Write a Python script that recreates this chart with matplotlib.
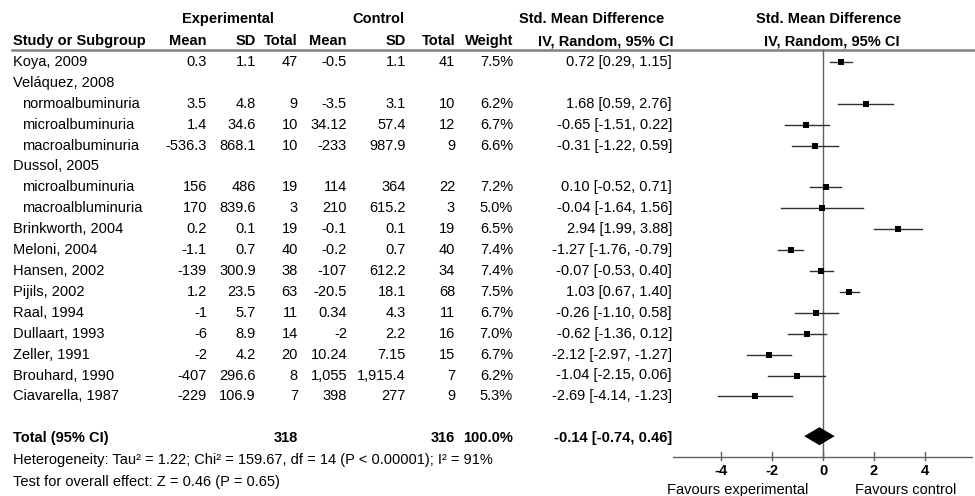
import numpy as np
import matplotlib
matplotlib.use("Agg")
from matplotlib import pyplot as plt

plt.rcParams['font.family'] = ['Liberation Sans', 'DejaVu Sans']

# study rows (None = group heading without data)
labels = ["Koya, 2009", "Veláquez, 2008", "normoalbuminuria", "microalbuminuria",
          "macroalbuminuria", "Dussol, 2005", "microalbuminuria", "macroalbluminuria",
          "Brinkworth, 2004", "Meloni, 2004", "Hansen, 2002", "Pijils, 2002",
          "Raal, 1994", "Dullaart, 1993", "Zeller, 1991", "Brouhard, 1990",
          "Ciavarella, 1987"]
indent = [0, 0, 1, 1, 1, 0, 1, 1, 0, 0, 0, 0, 0, 0, 0, 0, 0]
exp_mean = [0.3, None, 3.5, 1.4, -536.3, None, 156, 170, 0.2, -1.1, -139, 1.2, -1, -6, -2, -407, -229]
exp_sd = [1.1, None, 4.8, 34.6, 868.1, None, 486, 839.6, 0.1, 0.7, 300.9, 23.5, 5.7, 8.9, 4.2, 296.6, 106.9]
exp_n = [47, None, 9, 10, 10, None, 19, 3, 19, 40, 38, 63, 11, 14, 20, 8, 7]
ctl_mean = [-0.5, None, -3.5, 34.12, -233, None, 114, 210, -0.1, -0.2, -107, -20.5, 0.34, -2, 10.24, 1055, 398]
ctl_sd = [1.1, None, 3.1, 57.4, 987.9, None, 364, 615.2, 0.1, 0.7, 612.2, 18.1, 4.3, 2.2, 7.15, 1915.4, 277]
ctl_n = [41, None, 10, 12, 9, None, 22, 3, 19, 40, 34, 68, 11, 16, 15, 7, 9]
weight = [7.5, None, 6.2, 6.7, 6.6, None, 7.2, 5.0, 6.5, 7.4, 7.4, 7.5, 6.7, 7.0, 6.7, 6.2, 5.3]
smd = [0.72, None, 1.68, -0.65, -0.31, None, 0.10, -0.04, 2.94, -1.27, -0.07, 1.03, -0.26, -0.62, -2.12, -1.04, -2.69]
ci_lo = [0.29, None, 0.59, -1.51, -1.22, None, -0.52, -1.64, 1.99, -1.76, -0.53, 0.67, -1.10, -1.36, -2.97, -2.15, -4.14]
ci_hi = [1.15, None, 2.76, 0.22, 0.59, None, 0.71, 1.56, 3.88, -0.79, 0.40, 1.40, 0.58, 0.12, -1.27, 0.06, -1.23]

total_exp_n = 318
total_ctl_n = 316
total_smd = -0.14
total_lo = -0.74
total_hi = 0.46
het_text = "Heterogeneity: Tau² = 1.22; Chi² = 159.67, df = 14 (P < 0.00001); I² = 91%"
effect_text = "Test for overall effect: Z = 0.46 (P = 0.65)"
xticks = [-4, -2, 0, 2, 4]

fs = 10.5
fig = plt.figure(figsize=(9.75, 4.96), dpi=100)
ax = fig.add_axes([0, 0, 1, 1])
ax.set_xlim(0, 975)
ax.set_ylim(496, 0)
ax.axis("off")

# forest panel shares the pixel y scale
fx = fig.add_axes([673 / 975, 0, 300 / 975, 1])
fx.set_xlim(-5.9, 5.9)
fx.set_ylim(496, 0)
fx.axis("off")

# headers
ax.text(228, 19, "Experimental", ha="center", va="center", fontsize=fs, fontweight="bold")
ax.text(378, 19, "Control", ha="center", va="center", fontsize=fs, fontweight="bold")
ax.text(592, 19, "Std. Mean Difference", ha="center", va="center", fontsize=fs, fontweight="bold")
ax.text(829, 19, "Std. Mean Difference", ha="center", va="center", fontsize=fs, fontweight="bold")
hdr = [("Study or Subgroup", 13, "left"), ("Mean", 207, "right"), ("SD", 256, "right"),
       ("Total", 298, "right"), ("Mean", 347, "right"), ("SD", 406, "right"),
       ("Total", 455, "right"), ("Weight", 513, "right")]
for t, x, ha in hdr:
    ax.text(x, 41, t, ha=ha, va="center", fontsize=fs, fontweight="bold")
ax.text(606, 41, "IV, Random, 95% CI", ha="center", va="center", fontsize=fs, fontweight="bold")
ax.text(832, 41, "IV, Random, 95% CI", ha="center", va="center", fontsize=fs, fontweight="bold")
ax.plot([12, 975], [50, 50], color="#808080", lw=1.8)

# rows
col_x = [207, 256, 298, 347, 406, 455]
y0, step = 62, 20.9
for i, lab in enumerate(labels):
    y = y0 + step * i
    ax.text(13 + 9 * indent[i], y, lab, ha="left", va="center", fontsize=fs)
    if smd[i] is None:
        continue
    vals = [exp_mean[i], exp_sd[i], exp_n[i], ctl_mean[i], ctl_sd[i], ctl_n[i]]
    for x, v in zip(col_x, vals):
        ax.text(x, y, f"{v:,g}", ha="right", va="center", fontsize=fs)
    ax.text(513, y, f"{weight[i]:.1f}%", ha="right", va="center", fontsize=fs)
    ax.text(672, y, f"{smd[i]:.2f} [{ci_lo[i]:.2f}, {ci_hi[i]:.2f}]", ha="right", va="center", fontsize=fs)
    fx.plot([ci_lo[i], ci_hi[i]], [y, y], color="#303030", lw=1.0, zorder=3)
    fx.plot(smd[i], y, marker="s", color="black", ms=5.0 * np.sqrt(weight[i] / 7.5), mew=0, zorder=4)

# total row
yt = y0 + step * 18
ax.text(13, yt, "Total (95% CI)", ha="left", va="center", fontsize=fs, fontweight="bold")
ax.text(298, yt, str(total_exp_n), ha="right", va="center", fontsize=fs, fontweight="bold")
ax.text(455, yt, str(total_ctl_n), ha="right", va="center", fontsize=fs, fontweight="bold")
ax.text(513, yt, "100.0%", ha="right", va="center", fontsize=fs, fontweight="bold")
ax.text(672, yt, f"{total_smd:.2f} [{total_lo:.2f}, {total_hi:.2f}]", ha="right", va="center",
        fontsize=fs, fontweight="bold")
ax.text(13, 460, het_text, ha="left", va="center", fontsize=fs)
ax.text(13, 482, effect_text, ha="left", va="center", fontsize=fs)

yd = yt - 2
fx.fill([total_lo, total_smd, total_hi, total_smd], [yd, yd - 9, yd, yd + 9],
        color="black", lw=0, zorder=4)

# zero line and axis
fx.plot([0, 0], [50, 457], color="#606060", lw=1.0, zorder=2)
fx.plot([-5.9, 5.9], [457, 457], color="#606060", lw=1.0)
for t in xticks:
    fx.plot([t, t], [452, 460], color="#606060", lw=1.0)
    fx.text(t, 471, f"{t}", ha="center", va="center", fontsize=fs, fontweight="bold")
fx.text(-3.35, 490, "Favours experimental", ha="center", va="center", fontsize=fs)
fx.text(3.25, 490, "Favours control", ha="center", va="center", fontsize=fs)

fig.savefig("out.png", dpi=100)
